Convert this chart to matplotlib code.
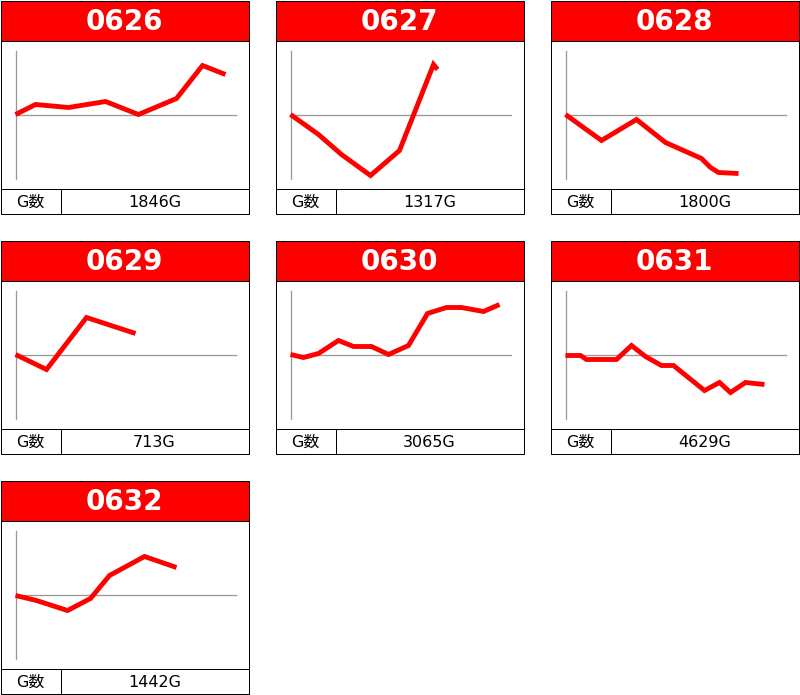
import matplotlib
matplotlib.use('Agg')
import matplotlib.pyplot as plt
from matplotlib.patches import Rectangle

##########
# data (x = progress along the day, y = coin difference)

labels = ['0626', '0627', '0628', '0629', '0630', '0631', '0632']
games = ['1846G', '1317G', '1800G', '713G', '3065G', '4629G', '1442G']

x_0626 = [0, 20, 53, 90, 123, 161, 187, 210]
y_0626 = [0, 10, 7, 13, 0, 16, 49, 40]

x_0627 = [0, 28, 51, 80, 109, 143, 147]
y_0627 = [0, -20, -40, -61, -36, 50, 45]

x_0628 = [0, 36, 71, 100, 136, 145, 153, 173]
y_0628 = [0, -26, -5, -28, -44, -53, -58, -59]

x_0629 = [0, 31, 71, 120]
y_0629 = [0, -15, 37, 21]

x_0630 = [0, 13, 28, 48, 63, 81, 98, 118, 137, 156, 171, 193, 209]
y_0630 = [0, -3, 1, 14, 8, 8, 0, 9, 41, 47, 47, 43, 50]

x_0631 = [0, 15, 21, 51, 66, 80, 96, 108, 139, 154, 165, 180, 199]
y_0631 = [-1, -1, -5, -5, 9, -2, -11, -11, -36, -28, -38, -28, -30]

x_0632 = [0, 21, 52, 75, 94, 129, 161]
y_0632 = [-1, -6, -16, -4, 19, 38, 27]

series_x = [x_0626, x_0627, x_0628, x_0629, x_0630, x_0631, x_0632]
series_y = [y_0626, y_0627, y_0628, y_0629, y_0630, y_0631, y_0632]

##########
# layout in pixels

W, H = 800, 695
col_x = [0, 275, 550]
row_y = [0, 240, 480]
pw, ph = 248, 213
px1 = 72.0 / 100  # one pixel in points

fig = plt.figure(figsize=(W / 100, H / 100), dpi=100)
bg = fig.add_axes([0, 0, 1, 1])
bg.set_xlim(0, W)
bg.set_ylim(H, 0)
bg.axis('off')

for i, lab in enumerate(labels):
    x0 = col_x[i % 3] + 0.5
    y0 = row_y[i // 3] + 0.5

    # header, border, table row
    bg.add_patch(Rectangle((x0, y0), pw, 40, facecolor='#ff0000', edgecolor='none'))
    bg.add_patch(Rectangle((x0, y0), pw, ph, facecolor='none', edgecolor='black', lw=px1))
    bg.plot([x0, x0 + pw], [y0 + 40, y0 + 40], color='black', lw=px1)
    bg.plot([x0, x0 + pw], [y0 + 188, y0 + 188], color='black', lw=px1)
    bg.plot([x0 + 60, x0 + 60], [y0 + 188, y0 + ph], color='black', lw=px1)

    bg.text(x0 + pw / 2, y0 + 21, lab, color='white', fontsize=20, fontweight='bold',
            ha='center', va='center', family='DejaVu Sans')
    bg.text(x0 + 30, y0 + 202, 'G数', color='black', fontsize=11.5,
            ha='center', va='center', family=['DejaVu Sans', 'Noto Sans CJK JP'])
    bg.text(x0 + 60 + (pw - 60) / 2, y0 + 202, games[i], color='black', fontsize=11.5,
            ha='center', va='center', family='DejaVu Sans')

    # chart
    ax = fig.add_axes([(x0 + 15) / W, 1 - (y0 + 178) / H, 220 / W, 128 / H])
    ax.set_xlim(0, 220)
    ax.set_ylim(-64, 64)
    ax.axis('off')
    ax.axhline(0, color='#999999', lw=px1 * 1.3, clip_on=False)
    ax.axvline(0, color='#999999', lw=px1 * 1.3, clip_on=False)
    ax.plot(series_x[i], series_y[i], color='#ff0000', lw=3.5, clip_on=False,
            solid_joinstyle='miter', solid_capstyle='butt')

fig.savefig('out.png', dpi=100)
